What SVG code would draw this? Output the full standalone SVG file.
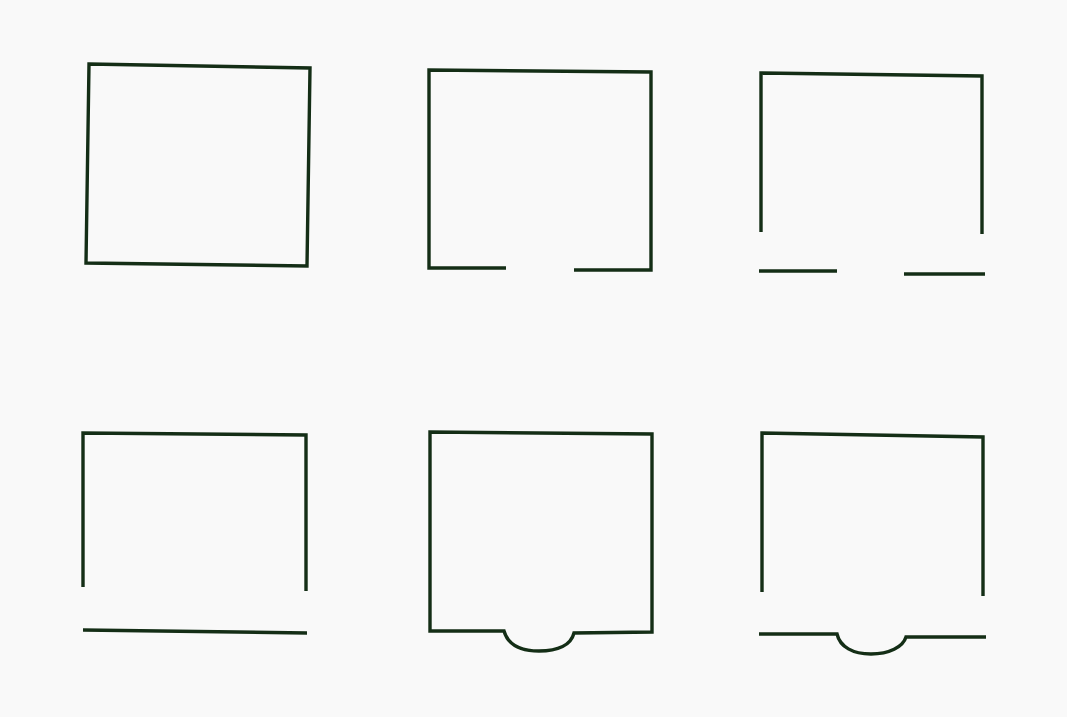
<svg xmlns="http://www.w3.org/2000/svg" width="1067" height="717" viewBox="0 0 1067 717">
<style>
.w{fill:none;stroke:#142e16;stroke-width:3.4;stroke-linecap:butt;stroke-linejoin:miter}
</style>
<rect width="1067" height="717" fill="#f9f9f9"/>
<g id="shape1">
<path class="w" d="M89,64 L310,68 L307,266 L86,263 Z"/>
</g>
<g id="shape2">
<path class="w" d="M506,268 L429,268 L429,70 L651,72 L651,270 L574,270"/>
</g>
<g id="shape3">
<path class="w" d="M761,232 L761,73 L982,76 L982,234"/>
<path class="w" d="M759,271 L837,271"/>
<path class="w" d="M904,274 L985,274"/>
</g>
<g id="shape4">
<path class="w" d="M83,587 L83,433 L306,435 L306,591"/>
<path class="w" d="M83,630 L307,633"/>
</g>
<g id="shape5">
<path class="w" d="M430,631 L430,432 L652,434 L652,632 L574,633 C571,645 558,651 539,651 C521,651 508,645 504,631 Z"/>
</g>
<g id="shape6">
<path class="w" d="M762,592 L762,433 L983,437 L983,596"/>
<path class="w" d="M759,634 L837,634 C840,647 853,654 871,654 C889,654 903,647 906,637 L986,637"/>
</g>
</svg>
